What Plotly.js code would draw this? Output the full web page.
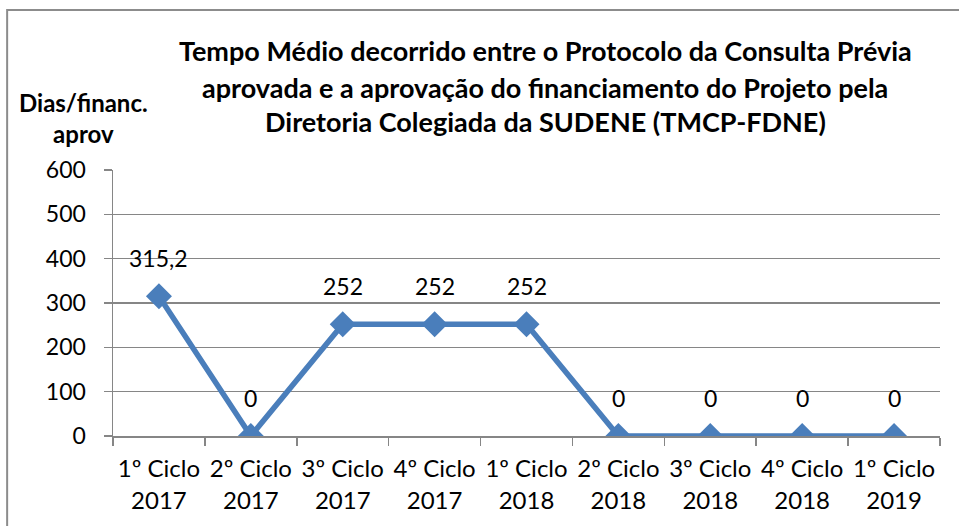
<!DOCTYPE html>
<html>
<head>
<meta charset="utf-8">
<script src="https://cdn.plot.ly/plotly-3.0.1.min.js"></script>
<style>html,body{margin:0;padding:0;background:#fff;}#chart{width:959px;height:526px;}</style>
</head>
<body>
<div id="chart"></div>
<script>
var categories = ["1º Ciclo<br>2017","2º Ciclo<br>2017","3º Ciclo<br>2017","4º Ciclo<br>2017","1º Ciclo<br>2018","2º Ciclo<br>2018","3º Ciclo<br>2018","4º Ciclo<br>2018","1º Ciclo<br>2019"];
var values = [315.2, 0, 252, 252, 252, 0, 0, 0, 0];
var yTicks = [0, 100, 200, 300, 400, 500, 600];
var titleLines = ["Tempo Médio decorrido entre o Protocolo da Consulta Prévia", "aprovada e a aprovação do financiamento do Projeto pela", "Diretoria Colegiada da SUDENE (TMCP-FDNE)"];
var yTitleText = "Dias/financ.<br>aprov";

var FONT = "Lato, 'Open Sans', sans-serif";

var labelAnnotations = categories.map(function(c, i){
  return {
    x: c, y: values[i], xref: "x", yref: "y",
    text: String(values[i]).replace(".", ","),
    showarrow: false, yshift: 38,
    font: {family: FONT, size: 23, color: "#000"}
  };
});

var titleY = [1.4474, 1.312, 1.1805];
var titleAnnotations = titleLines.map(function(t, i){
  return {
    xref: "paper", yref: "paper", x: 0.5224, y: titleY[i], xanchor: "center", yanchor: "middle",
    text: t, showarrow: false,
    font: {family: FONT, size: 27, color: "#000", weight: "bold"}
  };
});

var trace = {
  x: categories, y: values, type: "scatter", mode: "lines+markers",
  line: {color: "#4A7EBB", width: 5.5},
  marker: {symbol: "diamond", size: 20, color: "#4A7EBB"},
  hoverinfo: "skip"
};

var layout = {
  width: 959, height: 526,
  margin: {l: 113, r: 19, t: 170, b: 90},
  paper_bgcolor: "#fff", plot_bgcolor: "#fff",
  showlegend: false,
  font: {family: FONT, color: "#000"},
  xaxis: {
    type: "category", tickson: "boundaries", ticks: "outside", ticklen: 8,
    tickcolor: "#868686", tickwidth: 1.5, ticklabelstandoff: 11,
    showline: true, linecolor: "#868686", linewidth: 1.5,
    showgrid: false, zeroline: false,
    tickfont: {family: FONT, size: 24, color: "#000"},
    range: [-0.5, 8.5]
  },
  yaxis: {
    range: [0, 600], tickvals: yTicks, ticks: "outside", ticklen: 8,
    tickcolor: "#868686", tickwidth: 1.5, ticklabelstandoff: 13,
    showline: true, linecolor: "#868686", linewidth: 1.5,
    showgrid: true, gridcolor: "#868686", gridwidth: 1.5,
    zeroline: false,
    tickfont: {family: FONT, size: 23, color: "#000"}
  },
  annotations: labelAnnotations.concat(titleAnnotations, [{
    xref: "paper", yref: "paper", x: -0.0351, y: 1.1955, xanchor: "center", yanchor: "middle",
    text: yTitleText, showarrow: false, align: "center",
    font: {family: FONT, size: 24, color: "#000", weight: "bold"}
  }]),
  shapes: [{
    type: "rect", xref: "paper", yref: "paper",
    x0: -0.128, x1: 1.2, y0: -0.6, y1: 1.6015,
    line: {color: "#8c8c8c", width: 2}, fillcolor: "rgba(0,0,0,0)"
  }]
};

Plotly.newPlot("chart", [trace], layout, {displayModeBar: false, staticPlot: true});
</script>
</body>
</html>
